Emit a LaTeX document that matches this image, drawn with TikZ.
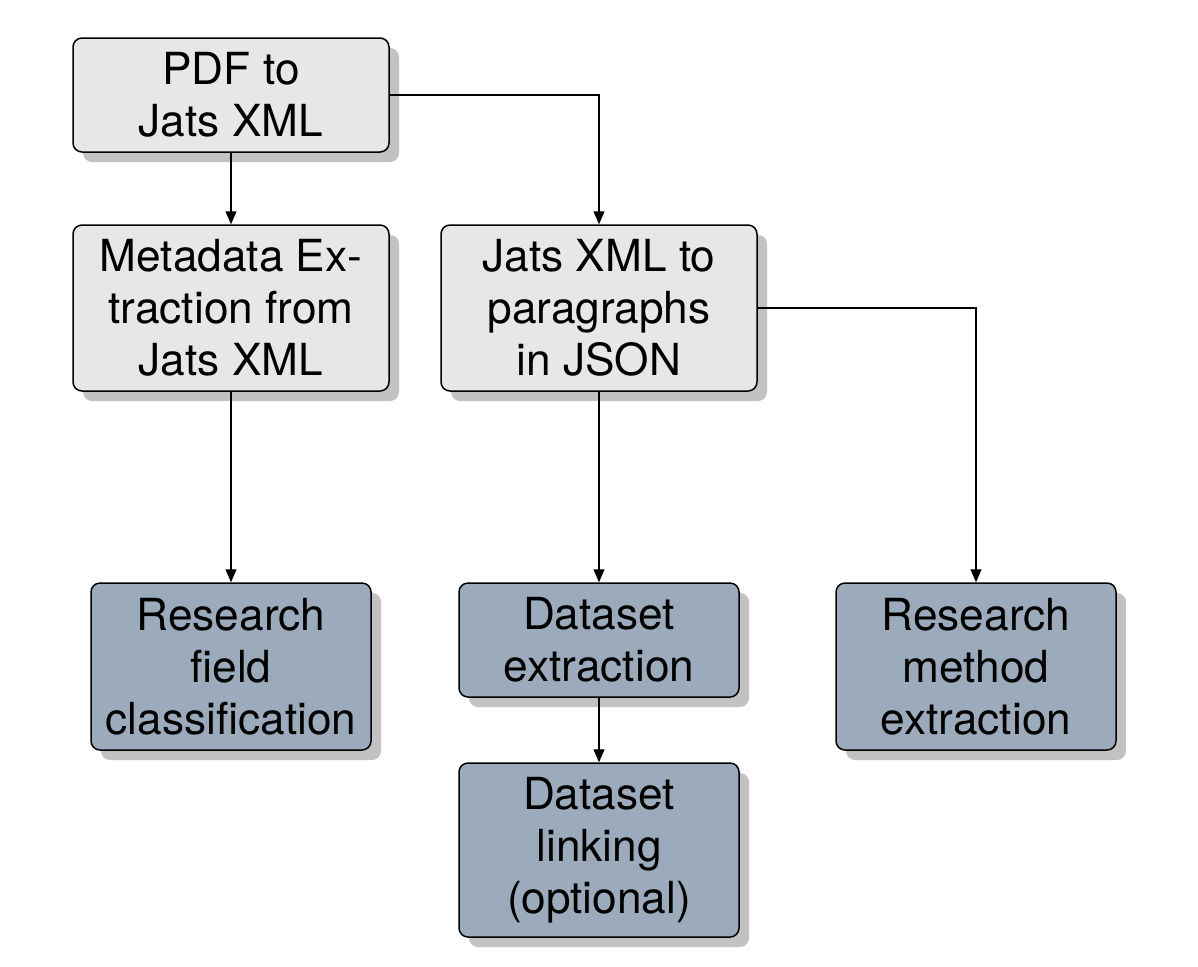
\documentclass[tikz,border=0pt]{standalone}
\usepackage{fontspec}
\setmainfont{TeX Gyre Heros}
\usetikzlibrary{shadows,arrows.meta}
\definecolor{lightbox}{HTML}{E6E7E8}
\definecolor{bluebox}{HTML}{9BABBB}
\definecolor{shadowc}{HTML}{C2C2C2}
\begin{document}
\begin{tikzpicture}[x=0.5pt,y=-0.5pt,
  box/.style={draw=black, line width=0.75pt, rounded corners=4.5pt, align=center,
    inner sep=0pt, font=\fontsize{22.1}{26}\selectfont,
    drop shadow={shadow xshift=5pt, shadow yshift=-5pt, fill=shadowc, opacity=1}},
  graybox/.style={box, fill=lightbox, minimum width=158pt},
  bluebx/.style={box, fill=bluebox, minimum width=140pt},
  conn/.style={line width=0.6pt, -{Triangle[length=6.5pt,width=5.5pt]}}]
\useasboundingbox (0,0) rectangle (1198,966);
\node[graybox, minimum height=57pt] (pdf) at (231,95) {PDF to\\Jats XML};
\node[graybox, minimum height=83pt] (meta) at (231,308) {Metadata Ex-\\traction from\\Jats XML};
\node[graybox, minimum height=83pt] (jats) at (599,308) {Jats XML to\\paragraphs\\in JSON};
\node[bluebx, minimum height=83.5pt] (field) at (231,666.5) {Research\\field\\classification};
\node[bluebx, minimum height=57pt] (dext) at (599,640) {Dataset\\extraction};
\node[bluebx, minimum height=87pt] (dlink) at (599,850) {Dataset\\linking\\(optional)};
\node[bluebx, minimum height=83.5pt] (meth) at (976,666.5) {Research\\method\\extraction};
\draw[conn] (pdf) -- (meta);
\draw[conn] (pdf.east) -| (jats.north);
\draw[conn] (meta) -- (field);
\draw[conn] (jats) -- (dext);
\draw[conn] (dext) -- (dlink);
\draw[conn] (jats.east) -| (meth.north);
\end{tikzpicture}
\end{document}
